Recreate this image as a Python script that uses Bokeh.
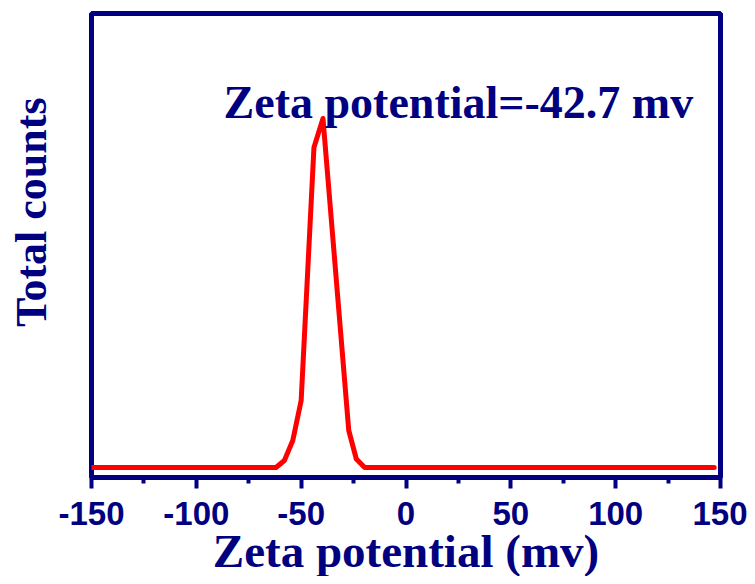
import numpy as np
from bokeh.plotting import figure
from bokeh.models import FixedTicker, Label, Range1d, Title
from bokeh.embed import file_html
from bokeh.resources import INLINE

# Data (counts in arbitrary units, baseline = 0)
zeta_mv = [-150, -62, -58, -54, -50, -43.9, -39.6, -27.3, -23.7, -19.7, 147]
counts = [0, 0, 7, 27, 67, 320, 349, 37, 8.5, 0, 0]

major_ticks = [-150, -100, -50, 0, 50, 100, 150]
minor_ticks = [-125, -75, -25, 25, 75, 125]
tick_labels = ["-150", "-100", "-50", "0", "50", "100", "150"]

NAVY = "#000080"

p = figure(width=747, height=576, output_backend="svg", toolbar_location=None,
           x_range=Range1d(-150, 150), y_range=Range1d(-10, 454),
           min_border_left=91, min_border_right=27, min_border_top=13, min_border_bottom=99)

p.line(zeta_mv, counts, line_color="#FF0000", line_width=5, line_join="round", line_cap="round")

p.grid.visible = False
p.outline_line_color = NAVY
p.outline_line_width = 5
p.outline_line_alpha = 1.0

# y axis: no visible ticks or labels; it only reserves space next to the frame
ya = p.yaxis[0]
ya.ticker = FixedTicker(ticks=[-10])
ya.major_label_overrides = {-10: ""}
ya.axis_line_alpha = 0
ya.major_tick_line_alpha = 0
ya.major_tick_in = 0
ya.major_tick_out = 34
ya.minor_tick_in = 0
ya.minor_tick_out = 0
ya.major_label_standoff = 0

xa = p.xaxis[0]
xa.ticker = FixedTicker(ticks=major_ticks, minor_ticks=minor_ticks)
xa.major_label_overrides = {t: s for t, s in zip(major_ticks, tick_labels)}
xa.axis_line_color = NAVY
xa.axis_line_width = 5
xa.major_tick_line_color = NAVY
xa.major_tick_line_width = 4
xa.major_tick_in = 0
xa.major_tick_out = 11
xa.minor_tick_line_color = NAVY
xa.minor_tick_line_width = 4
xa.minor_tick_in = 0
xa.minor_tick_out = 6
xa.major_label_text_font = "Liberation Sans"
xa.major_label_text_font_style = "bold"
xa.major_label_text_font_size = "33px"
xa.major_label_text_color = NAVY
xa.major_label_standoff = 13

xtitle = Title(text="Zeta potential (mv)", align="center", vertical_align="bottom", standoff=-10,
               text_font="Liberation Serif", text_font_style="bold", text_font_size="47px",
               text_color=NAVY)
p.add_layout(xtitle, "below")

ytitle = Title(text="Total counts", align="right", offset=84, standoff=0,
               vertical_align="top",
               text_font="Liberation Serif", text_font_style="bold", text_font_size="44px",
               text_color=NAVY)
p.add_layout(ytitle, "left")

ann = Label(x=-87, y=365, text="Zeta potential=-42.7 mv",
            text_font="Liberation Serif", text_font_style="bold", text_font_size="46px",
            text_color=NAVY, text_align="left", text_baseline="alphabetic")
p.add_layout(ann)

open("out.html", "w").write(file_html(p, INLINE))
